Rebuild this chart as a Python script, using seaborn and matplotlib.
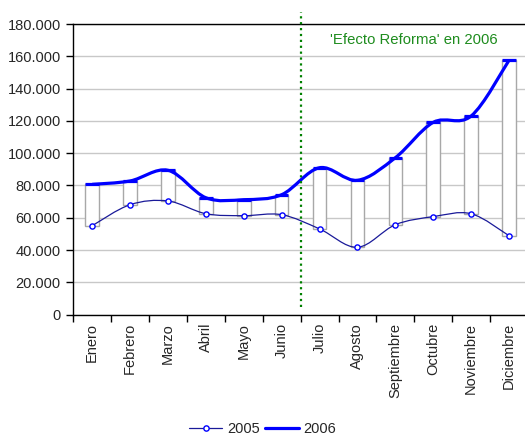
import numpy as np
import pandas as pd
import seaborn as sns
import matplotlib.pyplot as plt
from matplotlib.path import Path
from matplotlib.patches import PathPatch
from matplotlib.lines import Line2D
from matplotlib.ticker import FuncFormatter, FixedLocator

# Data
meses = ["Enero", "Febrero", "Marzo", "Abril", "Mayo", "Junio", "Julio",
         "Agosto", "Septiembre", "Octubre", "Noviembre", "Diciembre"]
v2005 = [55100, 68100, 70400, 62500, 61300, 61900, 53100, 41700, 55700, 60700, 62500, 48900]
v2006 = [80700, 82800, 89400, 72400, 71200, 74300, 91000, 83200, 97200, 119100, 123000, 157500]
y_ticks = [0, 20000, 40000, 60000, 80000, 100000, 120000, 140000, 160000, 180000]

df = pd.DataFrame({"mes": meses, "x": np.arange(len(meses)), "v2005": v2005, "v2006": v2006})


def smooth_path(xs, ys):
    # Bezier path through the points (Excel-like smoothed line)
    pts = np.column_stack([xs, ys]).astype(float)
    verts = [pts[0]]
    codes = [Path.MOVETO]
    n = len(pts)
    for i in range(n - 1):
        p0 = pts[i - 1] if i > 0 else pts[i]
        p1 = pts[i]
        p2 = pts[i + 1]
        p3 = pts[i + 2] if i + 2 < n else pts[i + 1]
        c1 = p1 + (p2 - p0) / 6.0
        c2 = p2 - (p3 - p1) / 6.0
        verts += [c1, c2, p2]
        codes += [Path.CURVE4] * 3
    return Path(verts, codes)


sns.set_theme(style="white")
plt.rcParams["font.family"] = ["Liberation Sans", "DejaVu Sans"]

fig = plt.figure(figsize=(5.25, 4.37), dpi=100)
ax = fig.add_axes([0.1396, 0.280, 0.866, 0.665])

ax.set_xlim(-0.5, 11.5)
ax.set_ylim(0, 180000)
ax.set_yticks(y_ticks)
ax.yaxis.set_major_formatter(FuncFormatter(lambda v, p: f"{int(v):,}".replace(",", ".")))
ax.grid(axis="y", color="#c8c8c8", lw=1.0, zorder=0)
ax.set_axisbelow(True)

# up/down bars between 2005 and 2006
ax.bar(df["x"], df["v2006"] - df["v2005"], bottom=df["v2005"], width=0.36,
       color="white", edgecolor="#a8a8a8", lw=1.0, zorder=2)

# 2005 smoothed thin line + markers
ax.add_patch(PathPatch(smooth_path(df["x"], df["v2005"]), fill=False,
                       edgecolor="#1a1a99", lw=0.9, zorder=3))
sns.scatterplot(data=df, x="x", y="v2005", ax=ax, marker="o", s=14,
                facecolor="white", edgecolor="#0000ff", linewidth=1.0, zorder=4, legend=False)

# 2006 smoothed thick line + flat tops over bars
ax.add_patch(PathPatch(smooth_path(df["x"], df["v2006"]), fill=False,
                       edgecolor="#0000ff", lw=2.3, zorder=3, capstyle="butt"))
ax.hlines(df["v2006"], df["x"] - 0.18, df["x"] + 0.18, color="#0000ff", lw=2.3, zorder=4)

# green dotted separator
ax.plot([5.5, 5.5], [4900, 187400], ls=":", color="#008000", lw=1.6, clip_on=False, zorder=5)
ax.text(8.5, 170000, "'Efecto Reforma' en 2006", color="#1e8c1e", fontsize=10.7,
        ha="center", va="center")

# ticks
ax.xaxis.set_major_locator(FixedLocator(np.arange(-0.5, 12, 1)))
ax.xaxis.set_minor_locator(FixedLocator(np.arange(12)))
ax.set_xticklabels([], minor=False)
ax.set_xticklabels(meses, minor=True, rotation=90, fontsize=10.5)
ax.tick_params(axis="x", which="major", direction="out", length=5, width=1, color="black", bottom=True)
ax.tick_params(axis="x", which="minor", length=0, pad=6, bottom=True)
ax.tick_params(axis="y", direction="out", length=5, width=1, color="black", labelsize=10.5, pad=4, left=True)
ax.set_xlabel("")
ax.set_ylabel("")
for s in ax.spines.values():
    s.set_color("black")
    s.set_linewidth(1.0)

handles = [
    Line2D([], [], color="#1a1a99", lw=0.9, marker="o", ms=3.8, mfc="white", mec="#0000ff", mew=1.0),
    Line2D([], [], color="#0000ff", lw=2.3),
]
fig.legend(handles, ["2005", "2006"], loc="center", bbox_to_anchor=(0.5, 0.018), ncol=2,
           frameon=False, fontsize=10.5, handlelength=2.3, handletextpad=0.3, columnspacing=0.4)

fig.savefig("out.png", dpi=100)
